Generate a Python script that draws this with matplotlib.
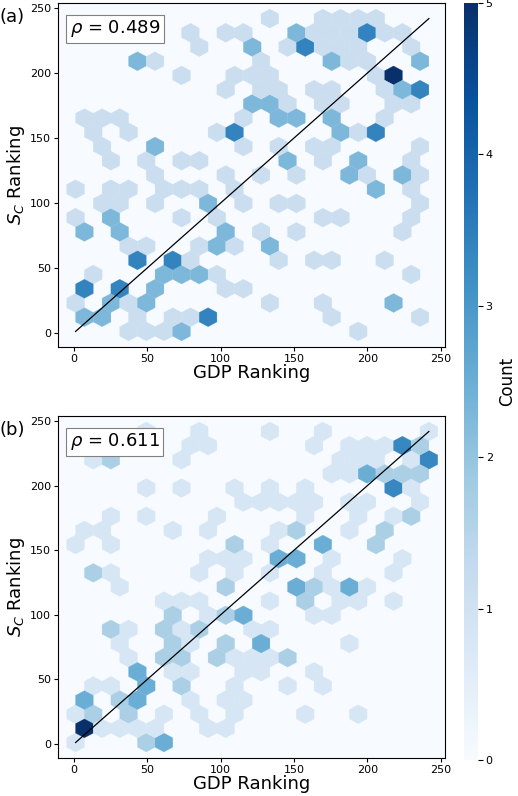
import numpy as np
import matplotlib
matplotlib.use("Agg")
import matplotlib.pyplot as plt
from matplotlib.colors import Normalize
from matplotlib.cm import ScalarMappable

# Panel (a): hex-cell centers (GDP ranking, S_C ranking) and counts
a_x = [133,169,181,193,205,
       79,103,115,151,163,175,187,199,211,223,
       85,121,157,145,169,181,193,229,
       43,55,175,187,199,235,127,
       73,109,121,133,205,217,
       103,127,139,163,175,223,235,211,
       121,133,145,169,187,217,229,
       7,19,31,115,139,151,175,211,
       13,37,97,109,181,205,193,
       19,55,115,139,163,175,235,
       25,49,73,85,145,169,193,229,
       55,103,127,151,187,199,223,235,
       1,25,37,61,73,85,109,205,229,
       19,31,55,91,115,139,151,235,
       1,25,73,103,169,181,229,
       7,31,103,127,151,223,
       37,49,97,109,133,85,
       43,67,139,163,175,211,79,
       13,61,73,85,97,229,
       7,31,55,103,115,
       1,25,49,37,133,169,217,
       7,19,43,67,79,91,175,235,
       37,49,61,73,193]
a_y = [243]*5 + [232]*10 + [221]*8 + [210]*7 + [199]*6 + [188]*8 + [177]*7 + [166]*8 + \
      [155]*7 + [144]*7 + [133]*8 + [122]*8 + [111]*9 + [100]*8 + [89]*7 + [78]*6 + \
      [67]*6 + [56]*7 + [45]*6 + [34]*5 + [23]*7 + [12]*8 + [1]*5
a_c = [1,1,1,1,1,
       1,1,1,2,1,1,1,3,1,1,
       1,2,3,1,1,1,1,1,
       2,1,2,1,1,2,1,
       1,1,1,1,1,5,
       1,1,1,1,1,2,3,1,
       2,2,1,1,1,1,1,
       1,1,1,1,2,2,2,1,
       1,1,1,3,2,3,1,
       1,2,1,1,1,1,1,
       1,1,1,1,2,1,2,1,
       1,1,1,1,2,1,2,1,
       1,1,1,1,1,1,1,2,1,
       1,1,1,2,1,1,1,1,
       1,2,1,1,1,1,1,
       2,2,2,1,1,1,
       1,1,2,1,2,1,
       3,3,1,1,1,1,1,
       1,2,2,2,1,1,
       3,3,2,1,1,
       1,2,2,1,1,1,2,
       2,2,1,1,1,3,1,1,
       1,1,1,2,1]

# Panel (b)
b_x = [49,85,133,169,241,
       79,91,163,187,199,211,223,235,
       13,25,73,181,193,229,241,205,
       199,211,223,235,175,187,
       49,73,109,133,157,217,229,
       115,127,139,151,163,187,199,235,
       25,49,97,157,193,229,217,
       7,19,67,91,151,139,211,187,
       1,25,109,169,205,133,
       139,151,97,109,121,175,223,
       13,25,85,109,133,169,217,
       31,103,151,163,187,199,175,
       61,73,85,133,157,181,193,217,
       73,97,103,115,163,175,
       25,37,61,85,121,133,73,
       31,67,103,127,187,79,
       37,61,73,97,109,145,121,133,
       43,67,85,115,127,163,
       13,25,49,73,109,145,169,
       7,31,43,79,103,115,
       1,13,37,61,85,109,157,193,
       7,19,31,43,55,91,103,
       1,49,61]
b_y = [243]*5 + [232]*8 + [221]*8 + [210]*6 + [199]*7 + [188]*8 + [177]*7 + [166]*8 + \
      [155]*6 + [144]*7 + [133]*7 + [122]*7 + [111]*8 + [100]*6 + [89]*7 + [78]*6 + \
      [67]*8 + [56]*6 + [45]*7 + [34]*6 + [23]*8 + [12]*7 + [1]*3
b_c = [1,1,1,1,1,
       1,1,1,1,1,1,4,2,
       1,2,1,1,1,1,4,1,
       3,2,2,2,1,1,
       1,1,1,1,1,4,1,
       1,1,1,1,1,1,1,1,
       1,1,1,1,1,2,1,
       1,1,1,1,2,1,2,1,
       1,1,2,3,2,1,
       3,3,1,1,1,1,1,
       2,1,1,1,1,1,1,
       1,2,3,2,3,1,1,
       1,1,1,1,2,1,1,1,
       2,1,2,3,1,1,
       2,1,2,2,1,1,1,
       1,2,2,3,1,1,
       1,2,2,2,1,2,1,1,
       3,1,1,1,1,1,
       1,1,3,2,1,1,1,
       3,2,3,1,1,1,
       1,2,2,1,1,1,1,1,
       6,1,1,1,1,1,1,
       1,2,3]

rho_a = 0.489
rho_b = 0.611

fig = plt.figure(figsize=(5.18, 7.96), dpi=100)
W, H = 518, 796
ax_a = fig.add_axes([58/W, 1-347/H, 387/W, 344/H])
ax_b = fig.add_axes([58/W, 1-758/H, 387/W, 342/H])
cax = fig.add_axes([464/W, 1-760/H, 14/W, 757/H])

bg = plt.cm.Blues(0.0)
for ax, xs, ys, cs, rho, lab, vmax in [(ax_a, a_x, a_y, a_c, rho_a, "(a)", 4.4),
                                       (ax_b, b_x, b_y, b_c, rho_b, "(b)", 6.0)]:
    ax.set_facecolor(bg)
    ax.hexbin(xs, ys, C=cs, reduce_C_function=np.sum, gridsize=20,
              extent=(1, 242, 1, 242), cmap="Blues", norm=Normalize(0, vmax),
              linewidths=0.2, edgecolors="face")
    ax.plot([1, 242], [1, 242], color="black", lw=0.9)
    ax.set_xlim(-11, 253)
    ax.set_ylim(-11, 254)
    ax.set_xticks([0, 50, 100, 150, 200, 250])
    ax.set_yticks([0, 50, 100, 150, 200, 250])
    ax.tick_params(labelsize=8, length=3, pad=2)
    ax.set_xlabel("GDP Ranking", fontsize=13, labelpad=0)
    ax.set_ylabel(r"$S_C$ Ranking", fontsize=13, labelpad=2)
    for s in ax.spines.values():
        s.set_linewidth(0.8)
    ax.text(0.03, 0.955, r"$\rho$ = %.3f" % rho, transform=ax.transAxes,
            fontsize=13, va="top", ha="left",
            bbox=dict(boxstyle="square,pad=0.2", fc="white", ec="gray", lw=0.8))
    ax.text(-0.15, 0.985, lab, transform=ax.transAxes, fontsize=13,
            va="top", ha="left")

cb = fig.colorbar(ScalarMappable(norm=Normalize(0, 5), cmap="Blues"), cax=cax)
cb.set_ticks([0, 1, 2, 3, 4, 5])
cb.ax.tick_params(labelsize=8, pad=2)
cb.set_label("Count", fontsize=12, labelpad=4)
cb.outline.set_visible(False)

fig.savefig("out.png", dpi=100)
